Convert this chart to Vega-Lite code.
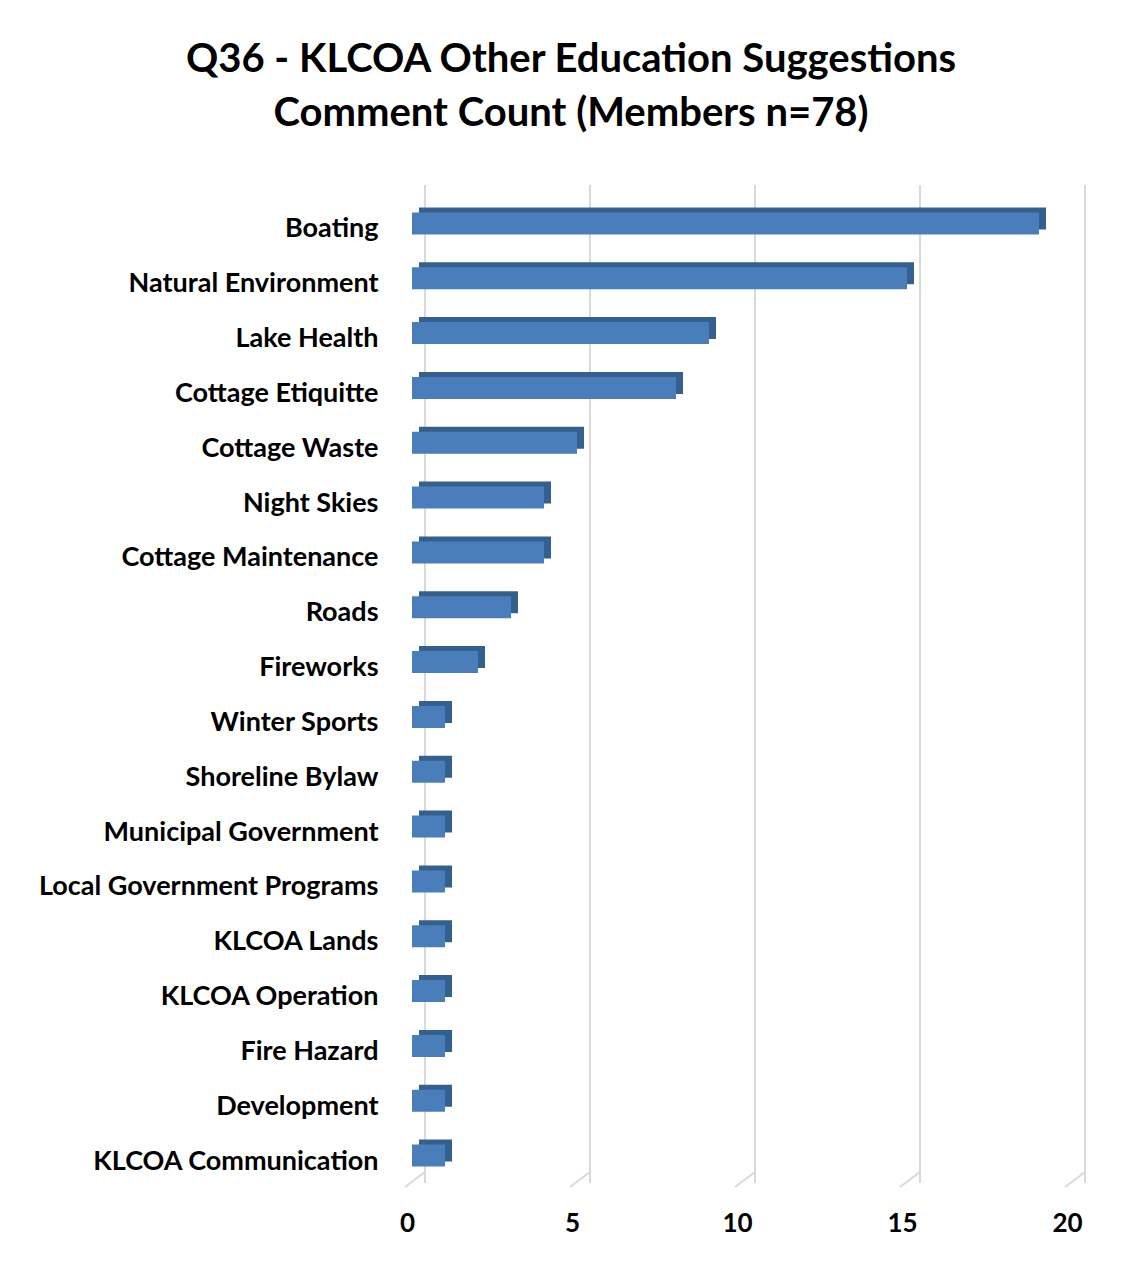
{
  "$schema": "https://vega.github.io/schema/vega-lite/v6.json",
  "autosize": {"type": "none"},
  "width": 660,
  "height": 987,
  "padding": {"left": 412, "top": 196, "right": 55, "bottom": 85},
  "background": "white",
  "title": {
    "text": ["Q36 - KLCOA Other Education Suggestions", "Comment Count (Members n=78)"],
    "font": "Lato",
    "fontSize": 40,
    "fontWeight": "bold",
    "color": "#000000",
    "lineHeight": 54,
    "anchor": "start",
    "align": "center",
    "frame": "group",
    "dx": 159,
    "offset": 50
  },
  "data": {
    "values": [
      {"topic": "Boating ", "count": 19},
      {"topic": "Natural Environment", "count": 15},
      {"topic": "Lake Health", "count": 9},
      {"topic": "Cottage Etiquitte", "count": 8},
      {"topic": "Cottage Waste", "count": 5},
      {"topic": "Night Skies", "count": 4},
      {"topic": "Cottage Maintenance", "count": 4},
      {"topic": "Roads", "count": 3},
      {"topic": "Fireworks", "count": 2},
      {"topic": "Winter Sports", "count": 1},
      {"topic": "Shoreline Bylaw", "count": 1},
      {"topic": "Municipal Government", "count": 1},
      {"topic": "Local Government Programs", "count": 1},
      {"topic": "KLCOA Lands", "count": 1},
      {"topic": "KLCOA Operation", "count": 1},
      {"topic": "Fire Hazard", "count": 1},
      {"topic": "Development ", "count": 1},
      {"topic": "KLCOA Communication", "count": 1}
    ]
  },
  "encoding": {
    "y": {
      "field": "topic",
      "type": "nominal",
      "sort": null,
      "scale": {
        "paddingInner": 0,
        "paddingOuter": 0,
        "domain": ["Boating ", "Natural Environment", "Lake Health", "Cottage Etiquitte", "Cottage Waste", "Night Skies", "Cottage Maintenance", "Roads", "Fireworks", "Winter Sports", "Shoreline Bylaw", "Municipal Government", "Local Government Programs", "KLCOA Lands", "KLCOA Operation", "Fire Hazard", "Development ", "KLCOA Communication"]
      },
      "axis": {
        "title": null,
        "domain": false,
        "ticks": false,
        "labelFont": "Lato",
        "labelFontSize": 27,
        "labelFontWeight": "bold",
        "labelColor": "#000000",
        "labelPadding": 34,
        "labelOffset": 6,
        "labelLimit": 500
      }
    }
  },
  "layer": [
    {
      "data": {"values": [{"v": 0}, {"v": 5}, {"v": 10}, {"v": 15}, {"v": 20}]},
      "mark": {"type": "rule", "color": "#D9D9D9", "strokeWidth": 2, "xOffset": 13, "yOffset": -11},
      "encoding": {
        "x": {"field": "v", "type": "quantitative", "scale": {"domain": [0, 20]}},
        "y": null
      }
    },
    {
      "data": {"values": [{"v": 0}, {"v": 5}, {"v": 10}, {"v": 15}, {"v": 20}]},
      "mark": {"type": "rule", "color": "#D9D9D9", "strokeWidth": 2, "xOffset": 13, "x2Offset": -7, "yOffset": -11, "y2Offset": 4},
      "encoding": {
        "x": {"field": "v", "type": "quantitative"},
        "x2": {"field": "v"},
        "y": {"datum": "KLCOA Communication", "type": "nominal", "bandPosition": 1},
        "y2": {"datum": "KLCOA Communication", "bandPosition": 1}
      }
    },
    {
      "mark": {"type": "bar", "color": "#34608F", "height": {"band": 0.4}, "xOffset": 7, "yOffset": -5, "x2Offset": 7},
      "encoding": {
        "x": {"field": "count", "type": "quantitative"}
      }
    },
    {
      "mark": {"type": "bar", "color": "#4A7EBB", "height": {"band": 0.4}},
      "encoding": {
        "x": {
          "field": "count",
          "type": "quantitative",
          "scale": {"domain": [0, 20]},
          "axis": {
            "title": null,
            "values": [0, 5, 10, 15, 20],
            "grid": false,
            "domain": false,
            "ticks": false,
            "labelFont": "Lato",
            "labelFontSize": 26,
            "labelFontWeight": "bold",
            "labelColor": "#000000",
            "labelPadding": 27,
            "labelOffset": -5,
            "labelFlush": false,
            "labelOverlap": false
          }
        }
      }
    }
  ],
  "config": {"view": {"stroke": null}}
}
